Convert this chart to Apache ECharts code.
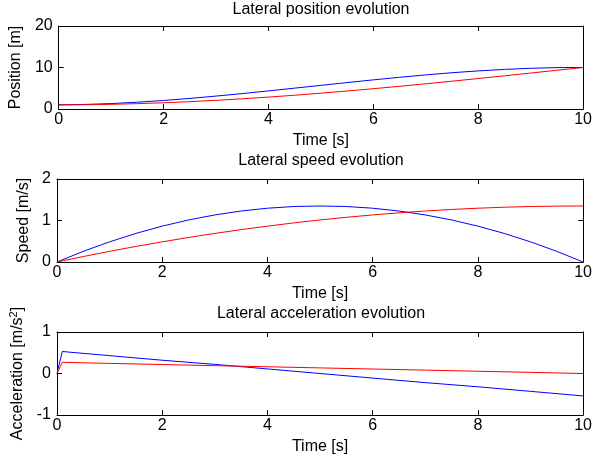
<!DOCTYPE html>
<html>
<head>
<meta charset="utf-8">
<script src="https://cdn.jsdelivr.net/npm/echarts@6/dist/echarts.min.js"></script>
<style>
  html, body { margin: 0; padding: 0; background: #ffffff; }
  #chart { width: 595px; height: 465px; }
</style>
</head>
<body>
<div id="chart"></div>
<script>
// Sample times (s) for position and speed traces
const timeFine = [0, 0.5, 1, 1.5, 2, 2.5, 3, 3.5, 4, 4.5, 5, 5.5, 6, 6.5, 7, 7.5, 8, 8.5, 9, 9.5, 10];

// Lateral position [m]
const posBlue = [1, 1.10, 1.31, 1.64, 2.05, 2.55, 3.11, 3.71, 4.36, 5.03, 5.70, 6.37, 7.02, 7.64, 8.22, 8.74, 9.18, 9.54, 9.81, 9.97, 10];
const posRed  = [1, 1.03, 1.13, 1.29, 1.50, 1.77, 2.09, 2.46, 2.87, 3.32, 3.81, 4.34, 4.89, 5.47, 6.07, 6.70, 7.34, 7.99, 8.66, 9.33, 10];

// Lateral speed [m/s]
const speedBlue = [0, 0.257, 0.486, 0.689, 0.864, 1.013, 1.134, 1.229, 1.296, 1.337, 1.35, 1.337, 1.296, 1.229, 1.134, 1.013, 0.864, 0.689, 0.486, 0.257, 0];
const speedRed  = [0, 0.132, 0.257, 0.375, 0.486, 0.591, 0.689, 0.780, 0.864, 0.942, 1.013, 1.077, 1.134, 1.185, 1.229, 1.266, 1.296, 1.320, 1.337, 1.347, 1.35];

// Lateral acceleration [m/s^2]
const timeAcc  = [0, 0.1, 1, 2, 3, 4, 5, 6, 7, 8, 9, 10];
const accBlue  = [0, 0.53, 0.43, 0.32, 0.22, 0.11, 0, -0.11, -0.22, -0.32, -0.43, -0.54];
const accRed   = [0, 0.27, 0.243, 0.216, 0.189, 0.162, 0.135, 0.108, 0.081, 0.054, 0.027, 0];

// Panel texts and axis ranges
const panelTitles = ['Lateral position evolution', 'Lateral speed evolution', 'Lateral acceleration evolution'];
const yNames = ['Position [m]', 'Speed [m/s]', '{t|Acceleration [m/s}{s|2}{t|]}'];
const xName = 'Time [s]';
const yRanges = [[0, 20, 10], [0, 2, 1], [-1, 1, 1]];
const xRange = [0, 10, 2];

const FONT = 'Liberation Sans, Arial, Helvetica, sans-serif';
const FS = 16;
const gridTops = [26, 179, 332];
const gridH = 83;
const titleY = [10, 161, 314];
const yNameGaps = [27, 20, 25];

const chart = echarts.init(document.getElementById('chart'), null, { renderer: 'canvas' });

const grids = [], xAxes = [], yAxes = [], series = [], graphics = [];

const pairs = (xs, ys) => xs.map((x, i) => [x, ys[i]]);
const seriesData = [
  [pairs(timeFine, posBlue), pairs(timeFine, posRed)],
  [pairs(timeFine, speedBlue), pairs(timeFine, speedRed)],
  [pairs(timeAcc, accBlue), pairs(timeAcc, accRed)]
];

for (let g = 0; g < 3; g++) {
  grids.push({
    left: 57, width: 528, top: gridTops[g], height: gridH,
    show: false, containLabel: false
  });
  const axisLine = { show: true, onZero: false, lineStyle: { color: '#000', width: 1 } };
  const axisTick = { show: true, inside: true, length: 5, lineStyle: { color: '#000', width: 1 } };
  // bottom x axis with labels
  xAxes.push({
    type: 'value', gridIndex: g, position: 'bottom',
    min: xRange[0], max: xRange[1], interval: xRange[2],
    axisLine, axisTick, splitLine: { show: false },
    axisLabel: { show: true, color: '#000', fontFamily: FONT, fontSize: FS, margin: 3 },
    name: xName, nameLocation: 'middle', nameGap: 24,
    nameTextStyle: { color: '#000', fontFamily: FONT, fontSize: FS }
  });
  // top x axis (frame with ticks)
  xAxes.push({
    type: 'value', gridIndex: g, position: 'top',
    min: xRange[0], max: xRange[1], interval: xRange[2],
    axisLine, axisTick, splitLine: { show: false }, axisLabel: { show: false }
  });
  const yr = yRanges[g];
  yAxes.push({
    type: 'value', gridIndex: g, position: 'left',
    min: yr[0], max: yr[1], interval: yr[2],
    axisLine, axisTick, splitLine: { show: false },
    axisLabel: { show: true, color: '#000', fontFamily: FONT, fontSize: FS, margin: 6 },
    name: yNames[g], nameLocation: 'middle', nameGap: yNameGaps[g], nameRotate: 90,
    nameTextStyle: {
      color: '#000', fontFamily: FONT, fontSize: FS,
      rich: {
        t: { color: '#000', fontFamily: FONT, fontSize: FS },
        s: { color: '#000', fontFamily: FONT, fontSize: 11, verticalAlign: 'top', padding: [0, 0, 8, 0] }
      }
    }
  });
  yAxes.push({
    type: 'value', gridIndex: g, position: 'right',
    min: yr[0], max: yr[1], interval: yr[2],
    axisLine, axisTick, splitLine: { show: false }, axisLabel: { show: false }
  });
  const colors = ['#0000ff', '#ff0000'];
  for (let s = 0; s < 2; s++) {
    series.push({
      type: 'line', xAxisIndex: g * 2, yAxisIndex: g * 2,
      data: seriesData[g][s], showSymbol: false, symbol: 'none',
      lineStyle: { color: colors[s], width: 1 }, silent: true, animation: false,
      clip: true
    });
  }
  graphics.push({
    type: 'text', x: 321, y: titleY[g],
    style: { text: panelTitles[g], fill: '#000', font: FS + 'px ' + FONT, align: 'center', verticalAlign: 'middle' }
  });
}

chart.setOption({
  animation: false,
  backgroundColor: '#ffffff',
  grid: grids,
  xAxis: xAxes,
  yAxis: yAxes,
  series: series,
  graphic: graphics
});
</script>
</body>
</html>
